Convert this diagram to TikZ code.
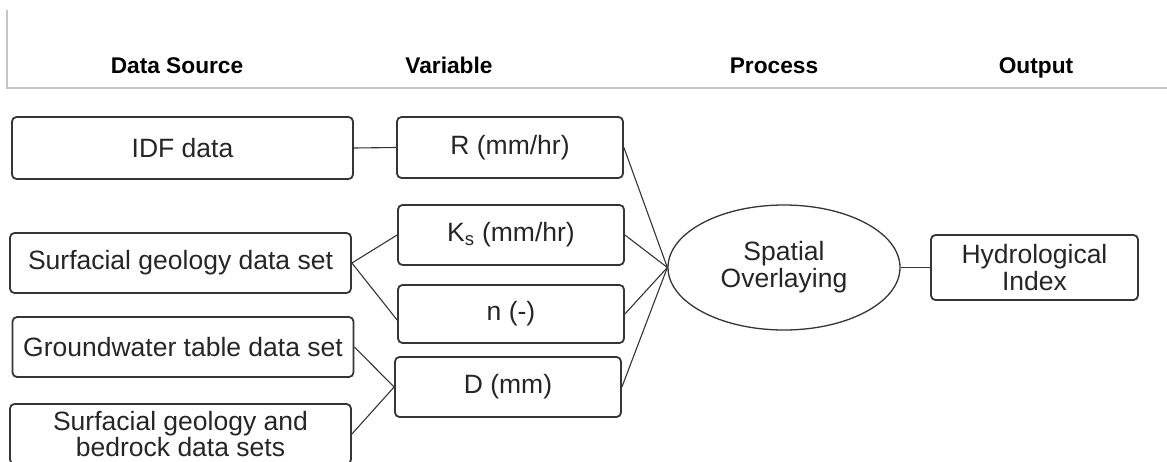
\documentclass[tikz,border=0pt]{standalone}
\usepackage{fontspec}
\setmainfont{Liberation Sans}
\usetikzlibrary{shapes.geometric}

\definecolor{rule}{HTML}{C4C4C4}
\definecolor{ink}{HTML}{262626}
\definecolor{edge}{HTML}{353535}

\tikzset{
  head/.style={anchor=base, font=\fontsize{22.7}{24}\selectfont\bfseries, text=black},
  srcbox/.style={draw=edge, line width=1.8pt, rounded corners=4.5pt,
    minimum width=341pt, minimum height=60pt, inner sep=0pt, align=center,
    text=ink, font=\fontsize{26.5}{26.8}\selectfont},
  varbox/.style={srcbox, minimum width=226pt},
  outbox/.style={srcbox, minimum width=207pt, minimum height=65pt},
  procell/.style={draw=edge, line width=1.3pt, ellipse, minimum width=232pt,
    minimum height=125pt, inner sep=0pt, align=center, text=ink,
    font=\fontsize{26.5}{26.8}\selectfont},
  link/.style={draw=edge, line width=1.1pt},
  rulerline/.style={draw=rule, line width=1.5pt}
}

\begin{document}
\begin{tikzpicture}[x=1pt, y=-1pt]
  \clip (0,0) rectangle (1167,461);
  \fill[white] (0,0) rectangle (1167,461);

  % header frame and column titles
  \draw[rulerline] (7,10) -- (7,88) -- (1167,88);
  \node[head] (hsrc) at (177,73) {Data Source};
  \node[head] (hvar) at (449,73) {Variable};
  \node[head] (hproc) at (774,73) {Process};
  \node[head] (hout) at (1036,73) {Output};

  % data sources
  \node[srcbox, minimum height=62pt] (idf) at (182.5,148) {IDF data};
  \node[srcbox] (surf) at (180.5,263) {Surfacial geology data set};
  \node[srcbox] (gw) at (183,347) {Groundwater table data set};
  \node[srcbox] (bed) at (180.5,434) {Surfacial geology and\\bedrock data sets};

  % variables
  \node[varbox, minimum height=61pt] (r) at (510,147.5) {R (mm/hr)};
  \node[varbox] (ks) at (511,235) {K\textsubscript{s} (mm/hr)};
  \node[varbox, minimum height=58pt] (n) at (511,314) {n (-)};
  \node[varbox] (d) at (508,387) {D (mm)};

  % process and output
  \node[procell] (ov) at (784,267.5) {Spatial\\Overlaying};
  \node[outbox] (hi) at (1034.5,267.5) {Hydrological\\Index};

  % connectors
  \draw[link] (idf.east) -- (r.west);
  \draw[link] (surf.east) -- (ks.west);
  \draw[link] (surf.east) -- ([yshift=-6pt]n.west);
  \draw[link] (gw.east) -- (d.west);
  \draw[link] (bed.east) -- (d.west);
  \draw[link] (r.east) -- (ov.west);
  \draw[link] (ks.east) -- (ov.west);
  \draw[link] (n.east) -- (ov.west);
  \draw[link] (d.east) -- (ov.west);
  \draw[link] (ov.east) -- (hi.west);
\end{tikzpicture}
\end{document}
